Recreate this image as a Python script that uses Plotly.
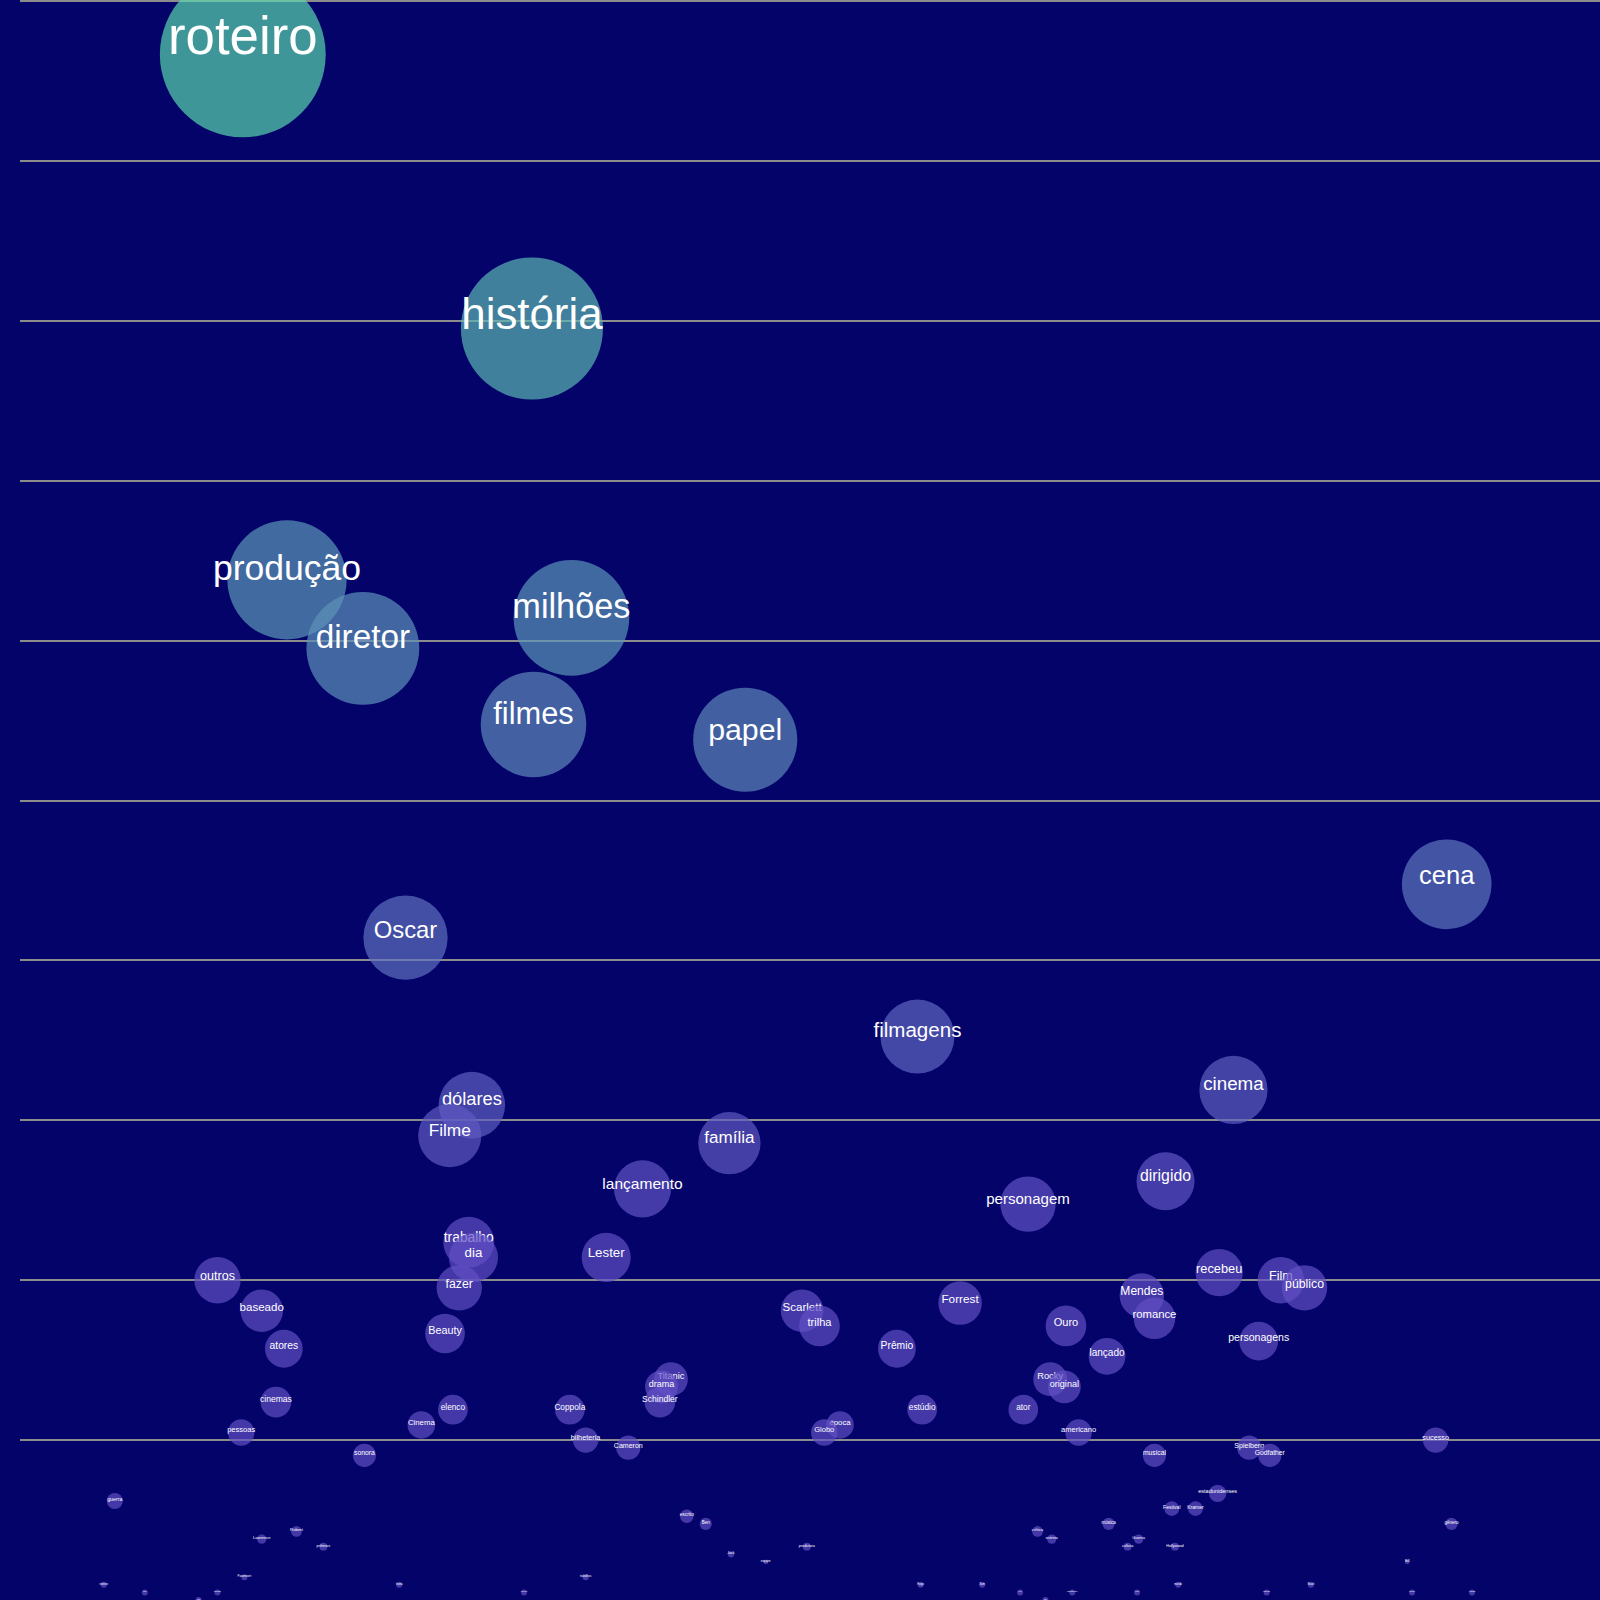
import numpy as np
import plotly.graph_objects as go

# ---- data: word, horizontal position (0-100), frequency count ----
words = [
    "roteiro", "história", "produção", "milhões", "diretor", "filmes", "papel", "cena",
    "Oscar", "filmagens", "cinema", "dólares", "Filme", "família", "dirigido", "lançamento",
    "personagem", "trabalho", "dia", "Lester", "recebeu", "outros", "Film", "fazer",
    "público", "Mendes", "Forrest", "baseado", "Scarlett", "romance", "trilha", "Ouro",
    "Beauty", "personagens", "atores", "Prêmio", "lançado", "Rocky", "Titanic", "original",
    "drama", "cinemas", "Schindler", "elenco", "Coppola", "estúdio", "ator", "Cinema",
    "época", "pessoas", "Globo", "americano", "bilheteria", "sucesso", "Cameron", "Spielberg",
    "sonora", "musical", "Godfather", "estadunidenses", "guerra", "Festival", "Kramer", "escrito",
    "Ben", "música", "gênero", "Robert", "crítica", "Lawrence", "estreia", "Guerra",
    "prêmios", "produtora", "cultura", "Hollywood", "Jack", "equipe", "Bill", "Paramount",
    "trabalhos", "roteiros", "trama", "Fargo", "Sam", "mundo", "Stuart", "Ele",
    "grande", "jovem", "fez", "assistente", "Mia", "papéis", "Coen", "Hanks",
    "Um", "Oz",
]
x_pos = [
    14.1, 32.4, 16.9, 34.9, 21.7, 32.5, 45.9, 90.3,
    24.4, 56.8, 76.8, 28.6, 27.2, 44.9, 72.5, 39.4,
    63.8, 28.4, 28.7, 37.1, 75.9, 12.5, 79.8, 27.8,
    81.3, 71.0, 59.5, 15.3, 49.5, 71.8, 50.6, 66.2,
    26.9, 78.4, 16.7, 55.5, 68.8, 65.2, 41.2, 66.1,
    40.6, 16.2, 40.5, 27.4, 34.8, 57.1, 63.5, 25.4,
    51.9, 14.0, 50.9, 67.0, 35.8, 89.6, 38.5, 77.8,
    21.8, 71.8, 79.1, 75.8, 6.0, 72.9, 74.4, 42.2,
    43.4, 68.9, 90.6, 17.5, 64.4, 15.3, 65.3, 70.8,
    19.2, 49.8, 70.1, 73.1, 45.0, 47.2, 87.8, 14.2,
    35.8, 5.3, 24.0, 57.0, 60.9, 73.3, 81.7, 7.9,
    12.5, 31.9, 63.3, 66.6, 70.7, 78.9, 88.1, 91.9,
    11.3, 64.9,
]
counts = [
    204, 168, 135, 130, 126, 116, 114, 95,
    88, 75, 68, 66, 62, 61, 56, 55,
    53, 48, 46, 46, 44, 43, 43, 42,
    42, 41, 40, 39, 39, 38, 37, 37,
    36, 35, 34, 34, 33, 30, 30, 29,
    29, 27, 27, 26, 26, 26, 26, 24,
    24, 23, 23, 23, 22, 22, 21, 21,
    20, 20, 20, 15, 14, 13, 13, 12,
    11, 11, 11, 10, 10, 9, 9, 9,
    8, 8, 8, 8, 7, 6, 6, 4,
    4, 3, 3, 3, 3, 3, 3, 2,
    2, 2, 2, 2, 2, 2, 2, 2,
    1, 1,
]

# ---- styling ----
W, H = 1600, 1600
Y_RANGE = [1, 211.15]
PX_PER_COUNT = H / (Y_RANGE[1] - Y_RANGE[0])
BG = "rgb(3,3,106)"
LOW = np.array([97, 80, 196])
HIGH = np.array([90, 213, 174])
FONT = "Arial, 'Liberation Sans', sans-serif"

fig = go.Figure()
order = sorted(range(len(words)), key=lambda i: -counts[i])
for i in order:
    w, x, n = words[i], x_pos[i], counts[i]
    radius = 1.33 * max(n - 4, 0) ** 0.78
    fs = 0.25 * n + 1.8
    t = min(max((n - 50) / 154, 0), 1)
    c = LOW + (HIGH - LOW) * t
    color = f"rgb({c[0]:.0f},{c[1]:.0f},{c[2]:.0f})"
    fig.add_trace(go.Scatter(
        x=[x], y=[n], mode="markers",
        marker=dict(size=2 * radius, color=color, opacity=0.7, line=dict(width=0)),
        hoverinfo="skip", showlegend=False,
    ))
    fig.add_trace(go.Scatter(
        x=[x], y=[n + 0.25 * fs / PX_PER_COUNT], mode="text",
        text=[w], textposition="middle center",
        textfont=dict(size=fs, color="white", family=FONT),
        hoverinfo="skip", showlegend=False,
    ))

fig.update_layout(
    width=W, height=H,
    margin=dict(l=20, r=0, t=0, b=0, pad=0),
    paper_bgcolor=BG, plot_bgcolor=BG,
    showlegend=False,
    xaxis=dict(range=[0, 100], visible=False, showgrid=False, zeroline=False),
    yaxis=dict(range=Y_RANGE, tickmode="linear", tick0=1, dtick=21,
               showgrid=True, gridcolor="#8c8c8c", gridwidth=1.6,
               showticklabels=False, zeroline=False, ticks="", showline=False),
)

fig.write_html(
    "out.html",
    config={"displayModeBar": False},
    post_script="document.body.style.margin='0';document.body.style.background='rgb(3,3,106)';",
)
